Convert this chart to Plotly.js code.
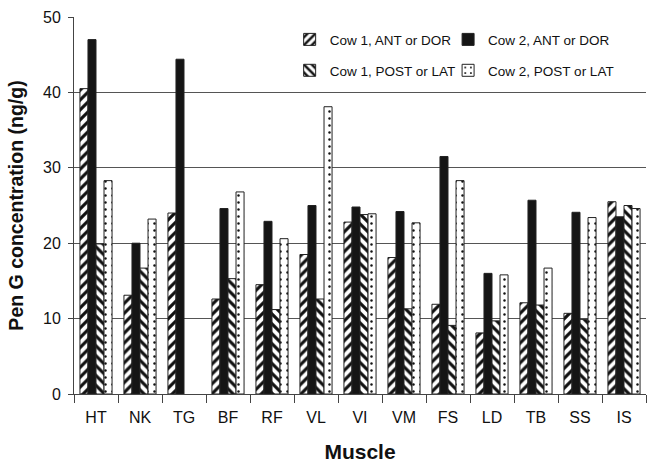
<!DOCTYPE html>
<html>
<head>
<meta charset="utf-8">
<script src="https://cdn.plot.ly/plotly-3.0.1.min.js"></script>
<style>html,body{margin:0;padding:0;background:#fff}#chart{width:649px;height:464px}</style>
</head>
<body>
<div id="chart"></div>
<script>
const muscles = ["HT","NK","TG","BF","RF","VL","VI","VM","FS","LD","TB","SS","IS"];
const cow1Ant  = [40.5, 13.1, 24.0, 12.6, 14.5, 18.5, 22.8, 18.1, 11.9, 8.1, 12.1, 10.7, 25.5];
const cow2Ant  = [47.0, 20.0, 44.4, 24.6, 22.9, 25.0, 24.8, 24.2, 31.5, 16.0, 25.7, 24.1, 23.5];
const cow1Post = [19.9, 16.7, null, 15.3, 11.2, 12.6, 23.8, 11.3, 9.1, 9.7, 11.8, 9.9, 25.0];
const cow2Post = [28.3, 23.2, null, 26.8, 20.6, 38.1, 23.9, 22.7, 28.3, 15.8, 16.7, 23.4, 24.6];
const seriesNames = ["Cow 1, ANT or DOR","Cow 2, ANT or DOR","Cow 1, POST or LAT","Cow 2, POST or LAT"];

const lineStyle = {color:'#222', width:1};
const traces = [
  {type:'bar', name:seriesNames[0], x:muscles, y:cow1Ant, legend:'legend',
   marker:{color:'white', line:lineStyle, pattern:{shape:'/', fgcolor:'#111', bgcolor:'white', size:7, solidity:0.45}}},
  {type:'bar', name:seriesNames[1], x:muscles, y:cow2Ant, legend:'legend2',
   marker:{color:'#151515', line:lineStyle}},
  {type:'bar', name:seriesNames[2], x:muscles, y:cow1Post, legend:'legend3',
   marker:{color:'white', line:lineStyle, pattern:{shape:'\\', fgcolor:'#111', bgcolor:'white', size:7, solidity:0.45}}},
  {type:'bar', name:seriesNames[3], x:muscles, y:cow2Post, legend:'legend4',
   marker:{color:'white', line:lineStyle, pattern:{shape:'.', fgcolor:'#111', bgcolor:'white', size:7, solidity:0.1}}}
];

const font = {family:'"Liberation Sans", Arial, sans-serif', color:'#111'};
const legendCommon = {orientation:'h', bgcolor:'rgba(0,0,0,0)',
  font:{family:font.family, size:13.5, color:'#111'}, xanchor:'left', yanchor:'middle', itemwidth:30};
const lg = (x, y) => Object.assign({}, legendCommon, {x:x, y:y});

const layout = {
  width:649, height:464,
  margin:{l:74, r:3, t:17, b:70, autoexpand:false},
  paper_bgcolor:'white', plot_bgcolor:'white',
  font:font,
  barmode:'group', bargap:0.27, bargroupgap:0,
  showlegend:true,
  legend:lg(0.377, 0.94),
  legend2:lg(0.654, 0.94),
  legend3:lg(0.377, 0.858),
  legend4:lg(0.654, 0.858),
  xaxis:{
    type:'category', showline:true, linecolor:'#444', linewidth:1,
    ticks:'outside', tickson:'boundaries', ticklen:8, tickcolor:'#444', ticklabelstandoff:9,
    tickfont:{family:font.family, size:16, color:'#111'},
    title:{text:'<b>Muscle</b>', font:{family:font.family, size:21, color:'#111'}, standoff:19}
  },
  yaxis:{
    range:[0,50], dtick:10, showline:true, linecolor:'#444', linewidth:1,
    ticks:'outside', ticklen:5, tickcolor:'#444', ticklabelstandoff:4,
    showgrid:true, gridcolor:'#555', gridwidth:1, zeroline:false,
    tickfont:{family:font.family, size:16, color:'#111'},
    title:{text:'<b>Pen G concentration (ng/g)</b>', font:{family:font.family, size:19.5, color:'#111'}, standoff:14}
  }
};

Plotly.newPlot('chart', traces, layout, {staticPlot:true, displayModeBar:false});
</script>
</body>
</html>
